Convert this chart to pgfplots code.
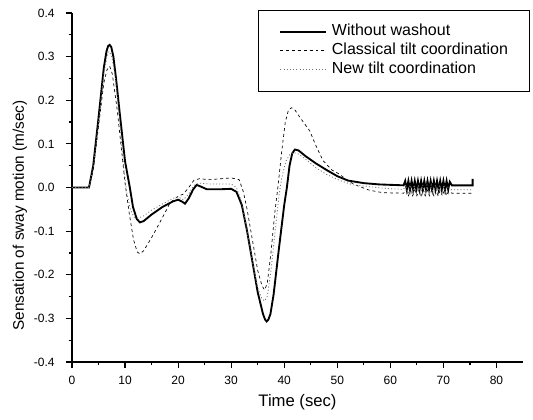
\documentclass[border=0pt]{standalone}
\usepackage{fontspec}
\setmainfont{Liberation Sans}
\usepackage{pgfplots}
\pgfplotsset{compat=1.18}

\begin{document}
\begin{tikzpicture}[x=1pt,y=1pt]
\begin{axis}[
    scale only axis,
    width=338.25pt, height=261.75pt,
    xmin=0, xmax=85, ymin=-0.4, ymax=0.4,
    axis x line*=bottom, axis y line*=left,
    axis line style={line width=1.1pt, -},
    tick align=outside,
    xtick={0,10,...,80},
    ytick={-0.4,-0.3,...,0.4},
    yticklabels={-0.4,-0.3,-0.2,-0.1,0.0,0.1,0.2,0.3,0.4},
    minor x tick num=1, minor y tick num=1,
    major tick length=4.5pt, minor tick length=2.5pt,
    every tick/.style={black, line width=0.9pt},
    tick label style={font=\fontsize{9}{10}\selectfont},
    yticklabel style={xshift=-5pt},
    xticklabel style={yshift=-2.5pt},
    /pgf/number format/assume math mode=true,
    xlabel={Time (sec)},
    ylabel={Sensation of sway motion (m/sec)},
    xlabel style={font=\fontsize{12.5}{14}\selectfont,
        at={(rel axis cs:0.5,0)}, anchor=center, yshift=-30pt},
    ylabel style={font=\fontsize{11.5}{13}\selectfont,
        at={(rel axis cs:0,0.42)}, anchor=center, yshift=39pt},
    legend style={at={(rel axis cs:1.015,1.01)}, anchor=north east,
        draw=black, line width=0.6pt, font=\fontsize{12}{14}\selectfont,
        inner xsep=16pt, inner ysep=10.5pt, row sep=2pt,
        nodes={inner sep=0pt, text height=9pt, text depth=3pt}},
    /tikz/every odd column/.append style={column sep=4pt},
    legend cell align=left,
    legend image code/.code={\draw[#1] (0pt,0pt) -- (34pt,0pt);},
]
\addplot[black, line width=1.4pt] coordinates {
(0,0) (3.2,0) (4,0.05) (5,0.16) (6,0.275) (6.5,0.312) (6.8,0.324) (7.1,0.327) (7.4,0.322)
(7.8,0.3) (8.3,0.25) (9,0.17) (10,0.06) (10.9,0) (11.5,-0.045) (12.2,-0.072) (12.8,-0.08)
(13.5,-0.077) (15,-0.062) (17,-0.045) (19,-0.032) (20,-0.028) (20.7,-0.032) (21.3,-0.037)
(22,-0.025) (22.8,-0.005) (23.5,0.006) (24.3,0.002) (25.4,-0.004) (28,-0.004) (30,-0.003)
(31,-0.01) (32,-0.04) (33,-0.1) (34,-0.17) (35,-0.24) (36,-0.29) (36.4,-0.303)
(36.7,-0.307) (37,-0.303) (37.4,-0.29) (38,-0.245) (39,-0.14) (40,-0.04) (40.5,0)
(41,0.05) (41.5,0.078) (42,0.087) (42.7,0.085) (44,0.072) (46,0.055) (48,0.04) (50,0.026)
(52,0.016) (55,0.01) (58,0.007) (62.5,0.005)
(62.8,0.015) (63.1,-0.005) (63.4,0.015) (63.7,-0.005) (64.0,0.015) (64.3,-0.005)
(64.6,0.015) (64.9,-0.005) (65.2,0.015) (65.5,-0.005) (65.8,0.015) (66.1,-0.005)
(66.4,0.015) (66.7,-0.005) (67.0,0.015) (67.3,-0.005) (67.6,0.015) (67.9,-0.005)
(68.2,0.015) (68.5,-0.005) (68.8,0.015) (69.1,-0.005) (69.4,0.015) (69.7,-0.005)
(70.0,0.015) (70.3,-0.005) (70.6,0.015) (70.9,-0.005) (71.2,0.013) (71.6,0.005)
(75.5,0.005) (75.5,0.02)
};
\addlegendentry{Without washout}
\addplot[black, line width=0.5pt, dash pattern=on 2.2pt off 2.2pt] coordinates {
(0,0) (3.2,0) (4,0.04) (5,0.14) (6,0.24) (6.6,0.27) (7.1,0.278) (7.6,0.26) (8.5,0.18)
(9.3,0.09) (10,0.01) (10.8,-0.06) (11.6,-0.12) (12.3,-0.148) (12.8,-0.152) (13.5,-0.145)
(15,-0.115) (17,-0.07) (18.5,-0.035) (20,-0.02) (21,-0.015) (22,0.0) (23,0.017) (24,0.02)
(26,0.018) (28,0.02) (30,0.022) (31.5,0.018) (32.3,-0.01) (33,-0.05) (34,-0.12) (35,-0.19)
(35.8,-0.225) (36.3,-0.235) (36.8,-0.22) (37.5,-0.15) (38.2,-0.06) (38.8,0) (39.5,0.08)
(40.2,0.15) (40.8,0.178) (41.4,0.183) (42,0.178) (43,0.16) (44.8,0.13) (46,0.095)
(47.3,0.062) (49,0.04) (50.5,0.03) (52,0.015) (53.6,0.005) (56,-0.006) (58.6,-0.012)
(62.5,-0.013) (63,-0.006) (63.4,-0.019) (63.8,-0.006) (64.2,-0.019) (64.6,-0.006)
(65,-0.019) (65.4,-0.006) (65.8,-0.019) (66.2,-0.006) (66.6,-0.019) (67,-0.006)
(67.4,-0.019) (67.8,-0.006) (68.2,-0.019) (68.6,-0.006) (69,-0.019) (69.4,-0.006)
(69.8,-0.019) (70.2,-0.006) (70.6,-0.019) (71,-0.008) (71.6,-0.013) (75.5,-0.013)
};
\addlegendentry{Classical tilt coordination}
\addplot[black!55, line width=0.6pt, dash pattern=on 0.8pt off 1.6pt] coordinates {
(0,0) (3.2,0) (4,0.045) (5,0.15) (6,0.26) (6.6,0.3) (7,0.312) (7.5,0.3) (8.2,0.25)
(9,0.15) (9.8,0.04) (10.3,-0.01) (11,-0.05) (11.7,-0.068) (12.5,-0.07) (13.5,-0.065)
(15,-0.052) (17,-0.038) (19,-0.025) (20,-0.022) (21,-0.028) (22,-0.015) (23,0.005)
(24,0.01) (26,0.008) (30,0.008) (31,0.0) (32,-0.035) (33,-0.1) (34,-0.17) (35,-0.23)
(35.8,-0.255) (36.3,-0.26) (36.8,-0.25) (37.5,-0.19) (38.3,-0.1) (39,-0.02) (39.5,0.02)
(40.3,0.06) (41,0.075) (41.7,0.08) (42.5,0.078) (44,0.065) (46,0.045) (48,0.03)
(50.5,0.016) (53,0.006) (56.7,0.001) (60,-0.003) (62.5,-0.004) (62.9,0.006) (63.3,-0.016)
(63.7,0.006) (64.1,-0.016) (64.5,0.006) (64.9,-0.016) (65.3,0.006) (65.7,-0.016)
(66.1,0.006) (66.5,-0.016) (66.9,0.006) (67.3,-0.016) (67.7,0.006) (68.1,-0.016)
(68.5,0.006) (68.9,-0.016) (69.3,0.006) (69.7,-0.016) (70.1,0.006) (70.5,-0.016)
(70.9,0.004) (71.5,-0.005) (75.5,-0.005)
};
\addlegendentry{New tilt coordination}
\end{axis}
\pgfresetboundingbox
\path[use as bounding box] (-54pt,-42.75pt) rectangle (345.75pt,271.5pt);
\end{tikzpicture}
\end{document}
